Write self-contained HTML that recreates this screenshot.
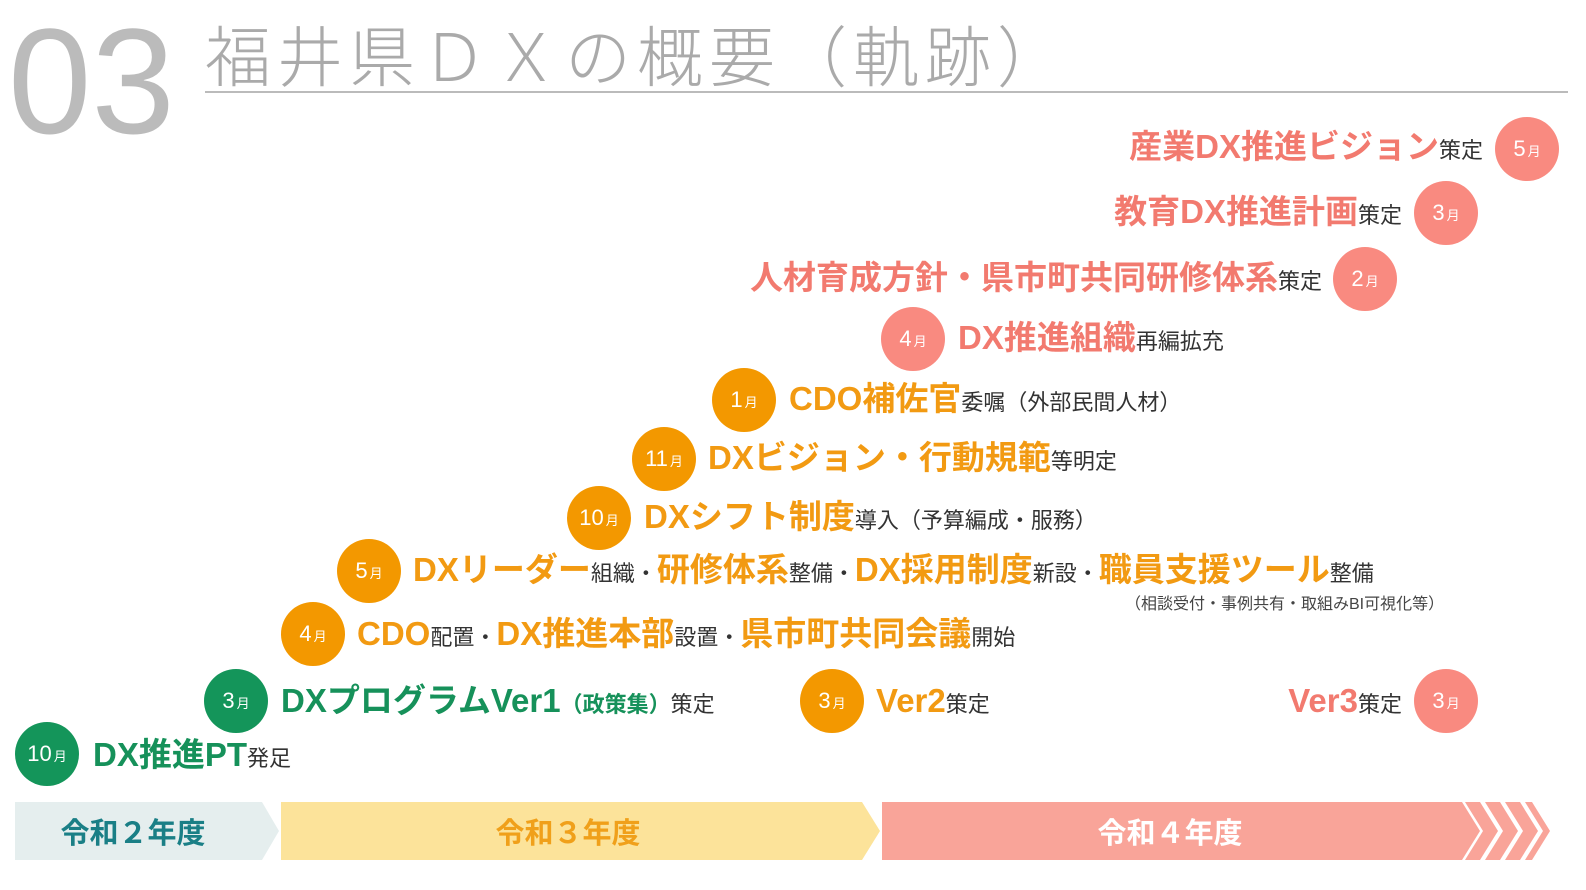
<!DOCTYPE html>
<html><head><meta charset="utf-8"><style>
body{margin:0;width:1586px;height:890px;background:#fff;position:relative;overflow:hidden;font-family:"Liberation Sans","Noto Sans CJK JP",sans-serif}
.a{position:absolute;white-space:nowrap}
.c{position:absolute;width:64px;height:64px;border-radius:50%;color:#fff;text-align:center;line-height:64px;font-size:22px}
.c small{font-size:13px;margin-left:2px}
.g{background:#14955a}.o{background:#f39800}.s{background:#f98a80}
.t{font-weight:bold;font-size:33px;line-height:40px;letter-spacing:0}
.t span{font-weight:normal;font-size:22px;color:#333;letter-spacing:0}
.tg{color:#16915a}.to{color:#f29a12}.ts{color:#f27a6f}
</style></head><body>
<div class="a" style="left:8px;top:-4px;font-size:150px;color:#bbb;font-weight:300;line-height:170px;font-family:'Liberation Sans',sans-serif">03</div>
<div class="a" style="left:205px;top:10px;font-size:66px;color:#aaa;font-weight:300;line-height:86px;letter-spacing:6px;font-family:'Noto Sans CJK JP',sans-serif">福井県ＤＸの概要（軌跡）</div>
<div class="a" style="left:205px;top:91px;width:1363px;height:2px;background:#bbb"></div>

<div class="c s" style="left:1495px;top:117px">5<small>月</small></div>
<div class="a t ts" style="right:103px;top:127px">産業DX推進ビジョン<span>策定</span></div>
<div class="c s" style="left:1414px;top:181px">3<small>月</small></div>
<div class="a t ts" style="right:184px;top:192px">教育DX推進計画<span>策定</span></div>
<div class="c s" style="left:1333px;top:247px">2<small>月</small></div>
<div class="a t ts" style="right:264px;top:258px">人材育成方針・県市町共同研修体系<span>策定</span></div>
<div class="c s" style="left:881px;top:307px">4<small>月</small></div>
<div class="a t ts" style="left:958px;top:318px">DX推進組織<span>再編拡充</span></div>
<div class="c o" style="left:712px;top:368px">1<small>月</small></div>
<div class="a t to" style="left:789px;top:379px">CDO補佐官<span>委嘱（外部民間人材）</span></div>
<div class="c o" style="left:632px;top:427px">11<small>月</small></div>
<div class="a t to" style="left:708px;top:438px">DXビジョン・行動規範<span>等明定</span></div>
<div class="c o" style="left:567px;top:486px">10<small>月</small></div>
<div class="a t to" style="left:644px;top:497px">DXシフト制度<span>導入（予算編成・服務）</span></div>
<div class="c o" style="left:337px;top:539px">5<small>月</small></div>
<div class="a t to" style="left:413px;top:550px">DXリーダー<span>組織・</span>研修体系<span>整備・</span>DX採用制度<span>新設・</span>職員支援ツール<span>整備</span></div>
<div class="a" style="left:1125px;top:590px;font-size:16px;color:#444">（相談受付・事例共有・取組みBI可視化等）</div>
<div class="c o" style="left:281px;top:602px">4<small>月</small></div>
<div class="a t to" style="left:357px;top:614px">CDO<span>配置・</span>DX推進本部<span>設置・</span>県市町共同会議<span>開始</span></div>
<div class="c g" style="left:204px;top:669px">3<small>月</small></div>
<div class="a t tg" style="left:281px;top:681px">DXプログラムVer1<span style="color:#16915a;font-weight:bold">（政策集）</span><span>策定</span></div>
<div class="c o" style="left:800px;top:669px">3<small>月</small></div>
<div class="a t to" style="left:876px;top:681px">Ver2<span>策定</span></div>
<div class="c s" style="left:1414px;top:669px">3<small>月</small></div>
<div class="a t ts" style="right:184px;top:681px">Ver3<span>策定</span></div>
<div class="c g" style="left:15px;top:722px">10<small>月</small></div>
<div class="a t tg" style="left:93px;top:735px">DX推進PT<span>発足</span></div>

<svg class="a" style="left:0;top:0" width="1586" height="890">
<polygon points="15,802 262,802 279,831 262,860 15,860" fill="#e5eeee"/>
<polygon points="281,802 862,802 880,831 862,860 281,860" fill="#fce39a"/>
<polygon points="882,802 1462,802 1480,831 1462,860 882,860" fill="#f9a499"/>
<polygon points="1465,802 1480,802 1498,831 1480,860 1465,860 1483,831" fill="#f9a499"/>
<polygon points="1485,802 1500,802 1518,831 1500,860 1485,860 1503,831" fill="#f9a499"/>
<polygon points="1505,802 1520,802 1538,831 1520,860 1505,860 1523,831" fill="#f9a499"/>
<polygon points="1525,802 1532,802 1550,831 1532,860 1525,860 1543,831" fill="#f9a499"/>
<g font-family="Liberation Sans,Noto Sans CJK JP,sans-serif" font-weight="bold" font-size="29" text-anchor="middle">
<text x="133" y="843" fill="#1a7f86">令和２年度</text>
<text x="568" y="843" fill="#f0a01a">令和３年度</text>
<text x="1170" y="843" fill="#fff">令和４年度</text>
</g>
</svg>
</body></html>
